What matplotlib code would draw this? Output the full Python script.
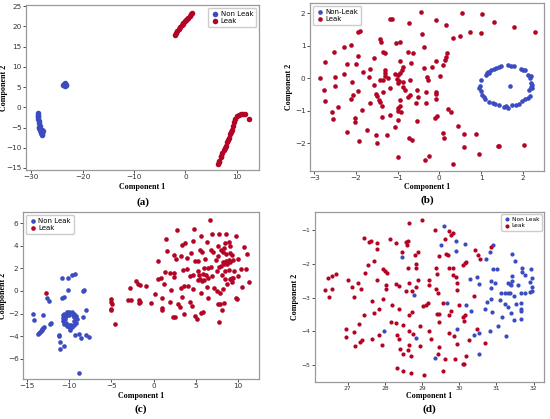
import matplotlib.pyplot as plt
import numpy as np

# colours taken from the coolwarm ends
BLUE = '#3b4cc0'
RED = '#b40426'

# ---- panel (a) ----
a_nonleak_x = [-23.6, -23.3, -23.5, -23.4, -23.7, -23.45, -23.2, -23.8, -23.5, -23.5,
               -28.7, -28.75, -28.7, -28.6, -28.5, -28.4, -28.3, -28.4, -28.2, -27.9,
               -28.1, -28.0, -27.9, -27.85, -28.3, -28.6, -28.55, -28.15, -27.75]
a_nonleak_y = [5.7, 5.5, 5.4, 5.8, 5.5, 5.6, 5.6, 5.6, 6.0, 5.2,
               -1.5, -2.0, -2.5, -3.0, -3.5, -4.0, -4.5, -5.0, -5.3, -5.5,
               -5.8, -6.2, -6.6, -6.9, -5.6, -2.2, -4.8, -6.4, -5.9]
a_leak_x = [-2.1, -1.9, -1.6, -1.3, -1.0, -0.7, -0.4, -0.1, 0.2, 0.5, 0.8, 1.1, 1.2, -0.5, 0.3,
            6.3, 6.6, 6.9, 7.2, 7.5, 7.8, 8.1, 8.4, 8.7, 9.0, 9.3, 9.5, 9.7, 10.0, 10.4, 10.8,
            11.2, 11.6, 12.3, 6.5, 7.0, 7.6, 8.2, 8.8]
a_leak_y = [17.8, 18.3, 18.9, 19.4, 19.9, 20.4, 20.9, 21.3, 21.7, 22.1, 22.6, 23.0, 23.3, 20.6, 21.9,
            -13.9, -13.2, -12.3, -11.4, -10.5, -9.5, -8.5, -7.5, -6.5, -5.5, -4.5, -3.6, -2.8, -2.2,
            -1.9, -1.7, -1.65, -1.75, -2.8, -13.6, -12.0, -10.0, -8.0, -6.0]

# ---- panel (b) ----
b_nonleak_x = [1.0, 0.97, 0.96, 1.0, 1.02, 1.06, 1.1, 1.12, 1.14, 1.16, 1.2, 1.25, 1.3, 1.35,
               1.42, 1.48, 1.65, 1.72, 1.8, 1.95, 2.0, 2.06, 2.12, 2.18, 2.2, 2.2, 2.22, 2.2,
               2.16, 2.22, 2.18, 2.12, 2.05, 1.98, 1.92, 1.85, 1.75, 1.65, 1.6, 1.55, 1.42,
               1.33, 1.28, 1.18, 1.7]
b_nonleak_y = [-0.05, -0.25, -0.3, -0.38, -0.5, -0.56, -0.65, 0.1, 0.16, 0.2, 0.18, 0.27, 0.3,
               0.33, 0.36, 0.38, 0.41, 0.39, 0.38, 0.28, 0.26, 0.25, 0.1, 0.02, 0.06, -0.15,
               -0.2, -0.27, -0.36, -0.3, -0.53, -0.6, -0.62, -0.7, -0.8, -0.82, -0.83, -0.9,
               -0.86, -0.88, -0.82, -0.8, -0.77, -0.72, -0.24]
b_leak_x = [-0.45, -1.18, -1.13, -0.09, -0.72, 0.15, 0.55, 1.02, 1.32, 1.8, 2.3, 0.74, 1.0,
            0.5, 0.32, -1.89, -1.94, -0.42, -1.42, -1.4, -2.11, -2.28, -1.03, -0.95, -0.37,
            -2.52, -1.35, -1.3, -0.74, -0.62, 0.18, 0.16, 0.13, -1.96, -1.56, -2.74, -2.21,
            -2.0, -0.95, -0.67, -0.07, -0.37, -0.17, 0.1, -1.83, -1.67, -1.3, -1.3, -1.3,
            -0.9, -0.87, -0.94, -0.98, -1.05, -2.86, -2.49, -2.28, -1.68, -1.22, -1.34, -1.43,
            -1.02, -0.96, -0.87, -1.0, -0.7, -0.3, -0.27, 0.02, -2.09, -2.76, -2.5, -1.56,
            -1.17, -0.86, -0.82, -0.54, -0.32, -0.07, -0.07, -1.94, -2.06, -2.12, -1.52, -1.5,
            -1.34, -0.7, -0.74, -0.5, -2.74, -2.42, -1.66, -1.42, -1.44, -1.37, -0.95, -0.98,
            -1.0, -0.57, -0.33, -0.07, -0.94, -2.57, -1.86, -0.93, -2.54, -2.01, -1.38, -1.19,
            -0.98, -0.53, -0.1, -0.06, 0.22, 0.28, -2.02, -1.73, -1.06, 0.44, -2.22, -1.52,
            -1.26, 0.1, 0.11, 0.59, 0.87, -0.73, -0.66, -1.92, -1.5, 0.59, 1.4, 1.42, 2.02,
            0.94, -0.25, -0.34, -0.98, 0.34]
b_leak_y = [2.05, 1.84, 1.82, 1.8, 1.7, 1.65, 2.0, 1.98, 1.72, 1.58, 1.42, 1.44, 1.41, 1.3,
            1.25, 1.47, 1.44, 1.35, 1.2, 1.13, 1.02, 0.97, 1.08, 1.12, 0.95, 0.8, 0.82, 0.77,
            0.8, 0.77, 0.79, 0.67, 0.58, 0.7, 0.62, 0.5, 0.45, 0.43, 0.53, 0.46, 0.53, 0.33,
            0.36, 0.41, 0.2, 0.29, 0.27, 0.17, 0.07, 0.27, 0.36, 0.17, 0.1, 0.12, 0.02, 0.04,
            0.13, 0.03, 0.0, -0.05, -0.05, -0.03, -0.09, -0.12, -0.15, -0.04, 0.03, -0.05, 0.07,
            -0.1, -0.36, -0.22, -0.2, -0.31, -0.28, -0.36, -0.36, -0.42, -0.41, -0.49, -0.38,
            -0.51, -0.64, -0.48, -0.54, -0.43, -0.51, -0.58, -0.56, -0.71, -0.87, -0.77, -0.72,
            -0.66, -0.84, -0.85, -0.92, -1.0, -0.77, -0.75, -0.65, -0.67, -1.05, -0.97, -1.03,
            -1.25, -1.21, -1.2, -1.13, -1.28, -1.3, -1.22, -1.16, -0.94, -1.05, -1.34, -1.59,
            -1.51, -1.46, -1.64, -1.73, -1.74, -1.69, -1.83, -1.71, -1.7, -1.85, -1.91, -1.93,
            -2.0, -2.11, -2.07, -2.07, -2.06, -2.32, -2.39, -2.51, -2.43, -2.62]

# ---- panel (c) ----
c_nonleak_x = [-10.85, -10.17, -9.67, -9.35, -10.2, -10.66, -10.82, -8.3, -8.4, -12.7, -12.4,
               -8.0, -14.26, -13.07, -14.14, -12.28, -12.16, -8.4,
               -10.6, -10.3, -10.0, -9.7, -9.4, -9.2, -9.1, -9.2, -9.4, -9.7, -10.0, -10.3,
               -10.6, -10.75, -10.8, -10.7, -10.45, -10.5, -10.45, -9.5, -9.45, -10.2, -9.8,
               -10.1, -9.6, -10.0,
               -13.0, -13.1, -13.3, -13.45, -13.6, -13.7, -13.2, -13.35,
               -9.9, -9.35, -8.87, -8.63, -8.0, -7.7, -11.25, -11.17, -11.1, -11.05, -10.6, -8.87]
c_nonleak_y = [1.15, 1.18, 1.45, 1.53, 0.12, -0.53, -0.62, 0.06, 0.0, -0.62, -0.86,
               -1.65, -2.06, -2.09, -2.6, -2.89, -2.8, -2.33,
               -2.0, -1.9, -1.85, -1.9, -2.0, -2.2, -2.5, -2.8, -3.0, -3.15, -3.2, -3.1,
               -2.95, -2.7, -2.4, -2.15, -2.2, -2.5, -2.8, -2.3, -2.65, -2.0, -3.0,
               -3.05, -2.1, -2.1,
               -3.2, -3.3, -3.45, -3.6, -3.75, -3.85, -3.35, -3.55,
               -3.48, -3.86, -3.8, -4.16, -3.92, -4.07, -3.86, -4.0, -4.5, -5.16, -4.9, -7.23]
c_leak_x = [-12.76, -5.1, -5.1, -4.95, -5.07, -5.07, -4.55, -2.85, -3.0, -2.73, -2.06, -1.86,
            -1.66, -0.87, -1.74, -1.58, -1.74, -0.36, 0.16,
            6.66, 2.77, 4.83, 1.47, 6.89, 7.77, 8.6, 5.63, 9.75, 3.72, 3.41, 4.68, 6.34, 7.6,
            8.48, 8.99, 9.03, 10.7, 1.59, 5.47, 5.74, 6.81, 7.09, 4.44, 2.38, 3.25, 3.96, 4.87,
            5.23, 6.14, 7.37, 7.6, 8.2, 8.6, 9.07, 9.27, 8.0, 8.36, 11.09, 2.69, 0.48, 10.0,
            8.2, 8.6, 8.99, 9.47, 7.73, 8.0, 8.4, 8.72, 9.11, 6.81, 6.42, 6.02, 5.31, 7.49,
            8.52, 8.95, 9.59, 10.42, 10.97, 1.31, 1.94, 2.46, 2.46, 3.45, 3.92, 4.28, 4.63,
            5.82, 5.43, 6.22, 6.89, 8.12, 9.31, 9.98, 0.55, 0.87, 5.23, 5.55, 5.74, 6.02, 6.42,
            8.48, 9.03, 9.43, 11.29, 1.19, 3.29, 3.65, 4.04, 6.38, 7.21, 7.53, 8.72, 9.27,
            10.46, 2.1, 4.68, 5.67, 6.42, 7.88, 8.2, 9.87, 9.75, 1.03, 1.9, 3.37, 2.93, 3.09,
            4.36, 4.56, 7.6, 7.92, 8.4, 8.12, 1.03, 1.03, 3.65, 2.26, 2.5, 4.95, 5.63, 5.86,
            5.15, 7.73]
c_leak_y = [-0.15, -0.74, -0.97, -1.18, -1.56, -1.7, -2.89, 0.3, -0.77, -0.77, 0.86, 0.65,
            0.5, 0.44, -0.83, -0.97, -1.03, -1.03, -0.24,
            6.25, 5.43, 5.49, 4.63, 5.01, 5.04, 5.07, 4.84, 4.87, 4.28, 4.07, 4.45, 4.31, 4.01,
            4.22, 4.31, 4.01, 3.9, 3.57, 3.6, 3.42, 3.66, 3.48, 3.33, 3.22, 3.1, 2.95, 2.68,
            2.68, 2.8, 2.74, 3.1, 3.42, 3.24, 3.36, 3.19, 3.66, 3.78, 3.3, 2.8, 2.68, 2.8,
            2.54, 2.65, 2.71, 2.71, 2.15, 2.18, 2.36, 2.39, 2.54, 2.15, 2.06, 2.06, 1.77, 1.8,
            1.8, 1.83, 1.8, 1.92, 1.95, 1.71, 1.56, 1.62, 1.27, 1.83, 1.95, 1.3, 1.42,
            1.53, 1.42, 1.42, 1.3, 1.39, 1.18, 1.33, 1.09, 1.12, 1.0, 1.09, 0.91, 1.0, 1.18,
            1.03, 1.06, 1.12, 0.8, 0.65, 0.29, 0.47, 0.44, 0.35, 0.24, 0.03, 0.59, 0.77,
            0.38, 0.09, 0.15, -0.18, -0.59, -0.15, 0.15, -0.71, -0.59, -0.59, -0.94, -0.5,
            -1.15, -1.45, -1.0, -1.3, -1.12, -1.15, -1.06, -1.68, -1.47, -1.68, -2.04, -2.27,
            -2.27, -2.21, -1.98, -1.83, -2.51, -2.77]

# ---- panel (d) ----
d_nonleak_x = [29.59, 29.5, 29.92, 29.92, 30.15, 28.45, 28.79, 27.98, 28.84, 29.66, 29.34,
               29.93, 30.17, 30.31, 30.28, 30.47, 30.52, 30.41, 30.52, 30.52, 30.72, 30.82,
               30.92, 30.85, 30.96, 30.91, 31.02, 30.85, 30.85, 30.74, 30.89, 30.69, 30.84,
               31.04, 31.12, 31.1, 31.14, 31.32, 31.37, 31.4, 31.24, 31.31, 31.37, 31.22,
               31.31, 31.38, 31.27, 31.47, 31.42, 31.49, 31.42, 31.42, 31.58, 31.47, 31.54,
               31.65, 31.68, 31.7, 31.65, 31.67, 31.67, 31.67, 31.78, 31.94, 31.89, 31.96,
               31.91, 31.97, 31.96, 31.76]
d_nonleak_y = [-0.89, -1.46, -1.33, -1.64, -1.41, -1.8, -2.92, -4.0, -4.19, -3.16, -4.77,
               -3.94, -3.23, -3.41, -2.46, -2.39, -2.59, -4.09, -4.04, -4.67, -1.86, -1.66,
               -1.44, -2.52, -2.56, -2.17, -2.15, -2.72, -3.05, -3.13, -3.43, -3.35, -4.0,
               -3.84, -2.86, -3.08, -3.57, -2.56, -2.6, -2.64, -2.86, -2.86, -2.86, -3.18,
               -3.28, -3.45, -4.14, -3.67, -1.73, -1.93, -2.37, -2.52, -2.64, -2.96, -3.2,
               -3.15, -2.25, -2.13, -3.35, -3.41, -3.62, -2.86, -2.33, -2.15, -2.84, -2.82,
               -2.54, -2.68, -2.42, -2.86]
d_leak_x = [26.39, 26.5, 26.48, 26.59, 26.68, 26.59, 27.02, 27.12, 27.18, 27.27, 27.36,
            27.43, 27.58, 27.62, 27.8, 27.8, 27.55, 27.71, 27.47, 28.14, 28.31, 28.45, 28.65,
            28.99, 28.58, 28.63, 28.6, 28.9, 27.94, 28.0, 28.05, 27.78, 28.03, 28.03, 28.31,
            28.38, 28.63, 28.83, 28.85, 28.81, 28.65, 28.85, 28.9, 29.19, 28.56, 28.72, 27.66,
            27.96, 28.18, 27.84, 27.72, 27.45, 28.38, 28.65, 28.74, 29.03, 29.1, 29.15, 28.16,
            28.31, 28.49, 28.33, 28.38, 28.94, 28.65, 28.76, 28.4, 28.48, 28.63, 28.65, 28.7,
            28.95, 28.32, 28.5, 28.7, 29.06, 26.95, 26.95, 27.16, 27.32, 27.38, 27.2, 27.3,
            27.66, 27.84, 27.91, 29.36, 29.45, 29.38, 29.4, 29.38, 29.43, 29.19, 29.57, 29.39,
            29.45, 29.45, 29.25, 29.19, 29.45, 29.42, 29.57, 29.61, 29.72, 29.79, 29.84, 29.65,
            29.7, 29.72, 29.84, 29.84, 29.9, 29.95, 29.95, 29.72, 29.79, 29.72, 29.86, 29.93,
            29.63, 29.88, 30.0, 30.11, 30.15, 30.13, 30.1, 30.15, 30.19, 30.1, 30.12, 30.19,
            30.26, 30.42, 30.51, 30.57, 30.4, 30.49, 30.69, 30.86]
d_leak_y = [-2.79, -2.99, -2.43, -2.38, -2.32, -2.76, -2.49, -2.69, -2.99, -2.56, -2.74,
            -1.24, -1.36, -1.34, -1.39, -1.56, -2.05, -1.93, -2.28, -1.27, -1.38, -1.66, -0.8,
            -0.71, -1.36, -1.34, -1.46, -1.66, -2.17, -2.23, -2.28, -2.47, -2.64, -2.74, -2.6,
            -2.66, -2.13, -2.0, -2.13, -1.76, -2.56, -2.69, -2.49, -2.62, -2.82, -2.82, -3.11,
            -3.03, -3.23, -3.33, -3.45, -3.51, -3.33, -3.51, -3.43, -3.25, -3.21, -3.15, -3.72,
            -3.74, -3.82, -4.1, -4.21, -3.85, -4.0, -4.07, -4.51, -4.66, -4.56, -4.41, -4.71,
            -4.43, -5.08, -5.17, -5.23, -5.28, -3.92, -4.16, -4.02, -4.31, -4.26, -4.43, -3.78,
            -4.21, -4.1, -4.39, -1.02, -1.78, -2.13, -2.3, -2.74, -2.88, -2.49, -3.15, -3.48,
            -3.48, -3.72, -4.21, -4.0, -4.46, -4.66, -5.18, -1.27, -1.05, -1.15, -1.09, -1.71,
            -1.76, -2.13, -2.13, -2.35, -2.4, -2.56, -2.78, -3.53, -3.41, -4.05, -4.14, -4.36,
            -4.82, -4.82, -3.21, -3.57, -3.53, -3.7, -2.03, -1.98, -1.95, -4.95, -4.97, -4.73,
            -4.26, -1.61, -1.76, -1.86, -2.97, -3.92, -4.35, -1.52]

fig = plt.figure(figsize=(5.5, 4.19), dpi=100)
fig.patch.set_facecolor('white')

# rect, data, labels, xlim, ylim, xticks, yticks, legend loc, marker size,
# legend font, tag, ylabel x, xlabel y, tag y (axes fraction)
panels = [
    ([0.0473, 0.5943, 0.4236, 0.3938], (a_nonleak_x, a_nonleak_y, a_leak_x, a_leak_y),
     ('Non Leak', 'Leak'), (-31, 14.3), (-15.5, 25.3),
     [-30, -20, -10, 0, 10], [-15, -10, -5, 0, 5, 10, 15, 20, 25], 'upper right', 16, 5,
     '(a)', -0.094, -0.105, -0.194),
    ([0.5636, 0.5919, 0.4255, 0.4010], (b_nonleak_x, b_nonleak_y, b_leak_x, b_leak_y),
     ('Non-Leak', 'Leak'), (-3.1, 2.51), (-2.85, 2.32),
     [-3, -2, -1, 0, 1, 2], [-2, -1, 0, 1, 2], 'upper left', 11, 5,
     '(b)', -0.088, -0.097, -0.173),
    ([0.0418, 0.0955, 0.4291, 0.3986], (c_nonleak_x, c_nonleak_y, c_leak_x, c_leak_y),
     ('Non Leak', 'Leak'), (-15.5, 12.5), (-7.8, 7.0),
     [-15, -10, -5, 0, 5, 10], [-6, -4, -2, 0, 2, 4, 6], 'upper left', 11, 5,
     '(c)', -0.085, -0.1, -0.18),
    ([0.5727, 0.0883, 0.4164, 0.4057], (d_nonleak_x, d_nonleak_y, d_leak_x, d_leak_y),
     ('Non Leak', 'Leak'), (26.12, 32.28), (-5.49, -0.48),
     [27, 28, 29, 30, 31, 32], [-5, -4, -3, -2, -1], 'upper right', 9, 4.2,
     '(d)', -0.086, -0.08, -0.159),
]

for (rect, data, labels, xlim, ylim, xt, yt, loc, ms, lfs,
     tag, ylx, xly, tagy) in panels:
    ax = fig.add_axes(rect)
    nx, ny, lx, ly = data
    ax.scatter(nx, ny, s=ms, color=BLUE, label=labels[0], linewidths=0)
    ax.scatter(lx, ly, s=ms, color=RED, label=labels[1], linewidths=0)
    ax.set_xlim(*xlim)
    ax.set_ylim(*ylim)
    ax.set_xticks(xt)
    ax.set_yticks(yt)
    ax.tick_params(labelsize=5.2 if tag != '(d)' else 4.3, length=2, width=0.6,
                   pad=1.2, colors='#333333')
    for sp in ax.spines.values():
        sp.set_color('#999999')
        sp.set_linewidth(0.9)
    ax.set_xlabel('Component 1', family='Liberation Serif', fontweight='bold', fontsize=5.8)
    ax.set_ylabel('Component 2', family='Liberation Serif', fontweight='bold', fontsize=5.8)
    ax.xaxis.set_label_coords(0.5, xly)
    ax.yaxis.set_label_coords(ylx, 0.5)
    ax.get_xaxis().label.set_va('center')
    ax.get_yaxis().label.set_va('center')
    ax.legend(loc=loc, fontsize=lfs, markerscale=1.0, handletextpad=0.2,
              borderpad=0.4, labelspacing=0.25, handlelength=1.2, borderaxespad=0.4,
              framealpha=1, edgecolor='#cccccc')
    ax.text(0.5, tagy, tag, transform=ax.transAxes, ha='center', va='center',
            family='Liberation Serif', fontweight='bold', fontsize=8)

fig.savefig('out.png', dpi=100, facecolor='white')
